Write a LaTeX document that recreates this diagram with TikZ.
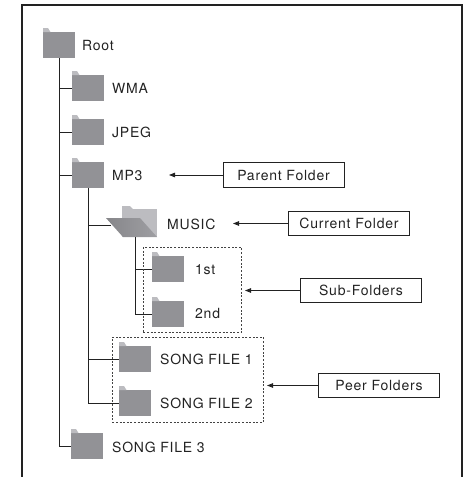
\documentclass[tikz,border=0pt]{standalone}
\usepackage{fontspec}
\setmainfont{TeX Gyre Heros}[LetterSpace=5.5]
\usetikzlibrary{arrows.meta}
\definecolor{fold}{RGB}{146,146,150}
\definecolor{tabc}{RGB}{188,188,192}
\definecolor{ink}{RGB}{34,34,34}
\begin{document}
\begin{tikzpicture}[x=1pt,y=-1pt,
  folder/.style={fill=fold, minimum width=32pt, minimum height=26pt, inner sep=0pt, anchor=north west},
  lbl/.style={anchor=base west, inner sep=0pt, text=ink, font=\fontsize{14}{16}\selectfont},
  tag/.style={draw=ink, line width=0.8pt, minimum width=121pt, minimum height=24.5pt, inner sep=0pt, text=ink, font=\fontsize{14}{16}\selectfont},
  tree/.style={draw=ink, line width=0.9pt},
  ptr/.style={draw=ink, line width=0.8pt, -{Triangle[length=6pt,width=4.5pt]}},
  grp/.style={draw=ink!85, dash pattern=on 2pt off 1.6pt, line width=0.8pt, inner sep=0pt, anchor=north west}]
\useasboundingbox (0,0) rectangle (469,477);
% frame
\draw[ink, line width=1.4pt] (22,477) -- (22,5) -- (462,5) -- (462,477);
% folders
\node[folder] (root) at (43,32) {};
\node[folder] (wma) at (72,75) {};
\node[folder] (jpeg) at (72,119) {};
\node[folder] (mp3) at (72,162) {};
\node[folder] (first) at (152,256) {};
\node[folder] (second) at (152,301) {};
\node[folder] (sf1) at (119,346) {};
\node[folder] (sf2) at (119,390) {};
\node[folder] (sf3) at (71,433) {};
\foreach \f in {root,wma,jpeg,mp3,first,second,sf1,sf2,sf3}
  \fill[tabc] (\f.north west) -- ++(0,-4) -- ++(5,0) -- ++(2.5,4) -- cycle;
% open folder MUSIC
\node[inner sep=0pt, minimum width=51pt, minimum height=31pt, anchor=north west] (music) at (106,206) {};
\fill[tabc] (122,209) rectangle (157,237);
\fill[tabc] (122,209) -- (122,206) -- (130,206) -- (133,209) -- cycle;
\shade[left color=fold!92!black, right color=fold!70!tabc] (106,218) -- (140,218) -- (157,237) -- (123,237) -- cycle;
% labels
\node[lbl] (troot) at (82,50) {Root};
\node[lbl] (twma) at (112,93) {WMA};
\node[lbl] (tjpeg) at (112,137) {JPEG};
\node[lbl] (tmp3) at (112,180) {MP3};
\node[lbl] (tmusic) at (167,229) {MUSIC};
\node[lbl] (tfirst) at (195,274) {1st};
\node[lbl] (tsecond) at (195,318) {2nd};
\node[lbl] (tsf1) at (160,364) {SONG FILE 1};
\node[lbl] (tsf2) at (160,408) {SONG FILE 2};
\node[lbl] (tsf3) at (112,452) {SONG FILE 3};
% tree connectors
\draw[tree] (root.south) |- (sf3.west);
\foreach \f in {wma,jpeg,mp3}
  \draw[tree] (root.south |- \f.west) -- (\f.west);
\draw[tree] (mp3.south) |- (sf2.west);
\draw[tree] (mp3.south |- sf1.west) -- (sf1.west);
\coordinate (musicin) at (111,225);
\draw[tree] (mp3.south |- musicin) -- (musicin);
\coordinate (musicbot) at (135,237);
\draw[tree] (musicbot) |- (second.west);
\draw[tree] (musicbot |- first.west) -- (first.west);
% dashed groups
\node[grp, minimum width=98pt, minimum height=85pt] (subgrp) at (143,247) {};
\node[grp, minimum width=151pt, minimum height=85pt] (peergrp) at (112,337) {};
% callout boxes
\node[tag] (parent) at (283.5,175) {Parent Folder};
\node[tag] (current) at (349,223.5) {Current Folder};
\node[tag] (subtag) at (361,290.5) {Sub-Folders};
\node[tag] (peertag) at (379,385.5) {Peer Folders};
% pointers
\coordinate (p1) at (169,175);
\coordinate (p2) at (233,223.5);
\coordinate (p3) at (245,290.5);
\coordinate (p4) at (267,385.5);
\draw[ptr] (parent.west) -- (p1);
\draw[ptr] (current.west) -- (p2);
\draw[ptr] (subtag.west) -- (p3);
\draw[ptr] (peertag.west) -- (p4);
\end{tikzpicture}
\end{document}
